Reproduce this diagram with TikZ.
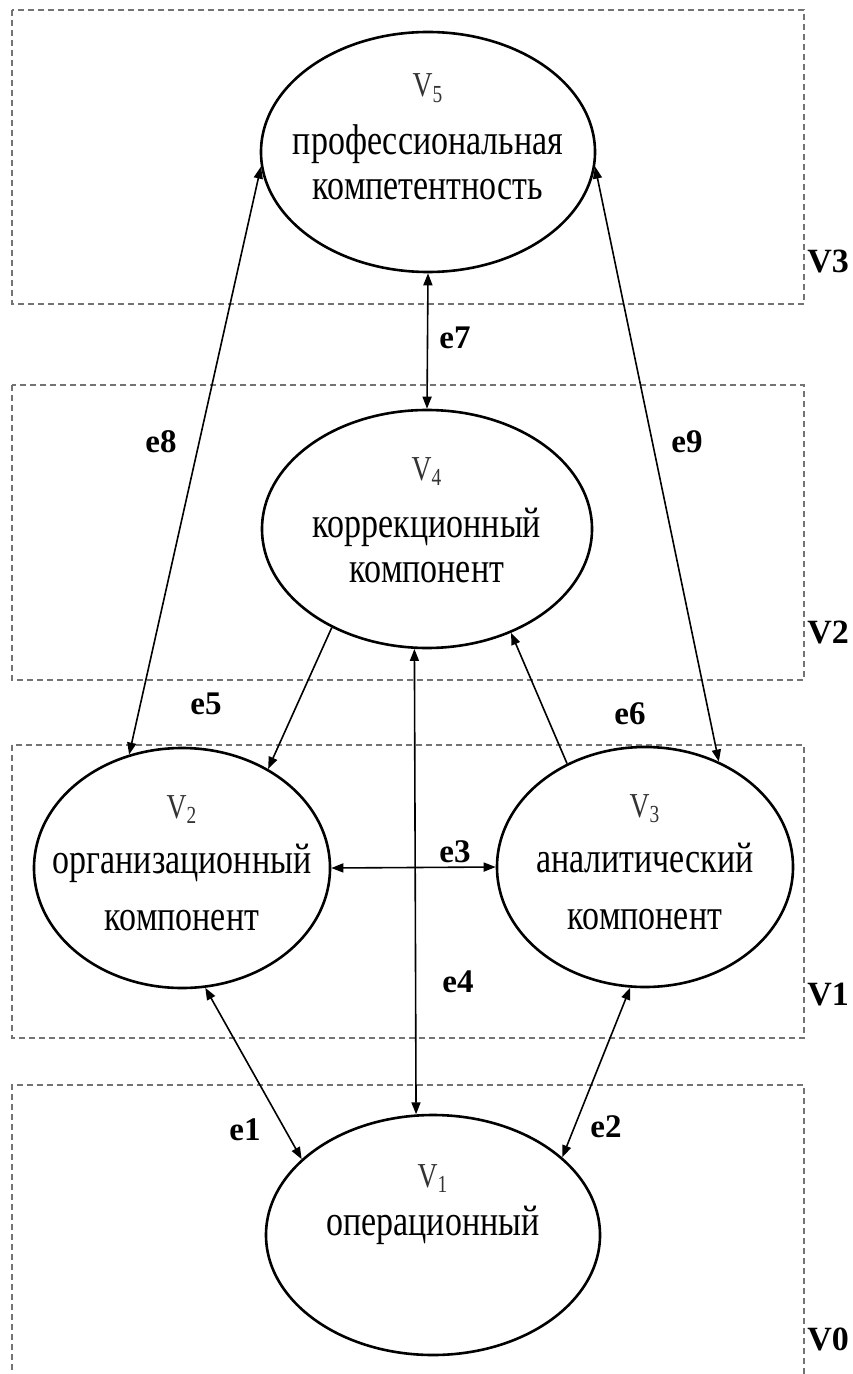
\documentclass[tikz,border=0pt]{standalone}
\usepackage{fontspec}
\setmainfont{Liberation Serif}
\newfontfamily\ovalfont{Liberation Serif}[FakeStretch=0.79]
\usetikzlibrary{arrows.meta,shapes.geometric}

% text of an ellipse: raise, index of V, gap under V, lines
\newcommand{\ovaltext}[4]{\makebox[0pt]{\raisebox{#1}[0pt][0pt]{\ovalfont
    \fontsize{21.5}{22.5}\selectfont
    \begin{tabular}[t]{@{}c@{}}
        {\fontsize{17.5}{17.5}\selectfont\color{black!80}V\textsubscript{#2}}\\[#3]
        #4
    \end{tabular}}}}

\begin{document}
\begin{tikzpicture}[x=0.5pt, y=-0.5pt, >={Triangle[length=6pt,width=4.5pt]},
    latent/.style={ellipse, draw, line width=1.3pt, inner sep=0pt},
    zone/.style={draw=black!55, line width=1.1pt, dash pattern=on 3pt off 2pt},
    link/.style={line width=0.8pt},
    elabel/.style={font=\fontsize{16.5}{18}\selectfont\bfseries},
    tier/.style={anchor=west, inner sep=0pt, font=\fontsize{17}{18}\selectfont\bfseries}]
    \useasboundingbox (0,0) rectangle (852,1374);

    % levels
    \draw[zone] (12,10) rectangle (804,304);
    \draw[zone] (12,385) rectangle (804,680);
    \draw[zone] (12,745) rectangle (804,1038);
    \draw[zone] (12,1390) -- (12,1085) -- (804,1085) -- (804,1390);
    \node[tier] (t3) at (807,262) {V3};
    \node[tier] (t2) at (807,632) {V2};
    \node[tier] (t1) at (807,995) {V1};
    \node[tier] (t0) at (807,1339) {V0};

    % variables
    \node[latent, minimum width=167pt, minimum height=120pt] (v5) at (428,152)
        {\ovaltext{27.5pt}{5}{6.5pt}{профессиональная\\компетентность}};
    \node[latent, minimum width=165pt, minimum height=119pt] (v4) at (427,529)
        {\ovaltext{24.5pt}{4}{6pt}{коррекционный\\компонент}};
    \node[latent, minimum width=148pt, minimum height=120pt] (v2) at (182,868)
        {\ovaltext{25pt}{2}{5pt}{организационный\\[6pt]компонент}};
    \node[latent, minimum width=148pt, minimum height=120pt] (v3) at (645,867)
        {\ovaltext{25pt}{3}{5pt}{аналитический\\[6pt]компонент}};
    \node[latent, minimum width=167pt, minimum height=120pt] (v1) at (433,1235)
        {\ovaltext{24pt}{1}{1.5pt}{операционный}};

    % paths
    \draw[link, <->] (v5.south) -- (v4.north);
    \draw[link, <->] (v5.185) -- (v2.115);
    \draw[link, <->] (v5.355) -- (v3.55);
    \draw[link, ->] (v4.226) -- (v2.49);
    \draw[link, ->] (v3.127) -- (v4.309);
    \draw[link, <->] (v2.east) -- (v3.west);
    \draw[link, <->] (v4.264) -- (v1.98);
    \draw[link, <->] (v2.281) -- (v1.150);
    \draw[link, <->] (v3.263) -- (v1.31);

    \node[elabel] (e1) at (245,1130) {e1};
    \node[elabel] (e2) at (606,1127) {e2};
    \node[elabel] (e3) at (455,852) {e3};
    \node[elabel] (e4) at (458,982) {e4};
    \node[elabel] (e5) at (206,704) {e5};
    \node[elabel] (e6) at (630,714) {e6};
    \node[elabel] (e7) at (455,338) {e7};
    \node[elabel] (e8) at (161,442) {e8};
    \node[elabel] (e9) at (687,442) {e9};
\end{tikzpicture}
\end{document}
